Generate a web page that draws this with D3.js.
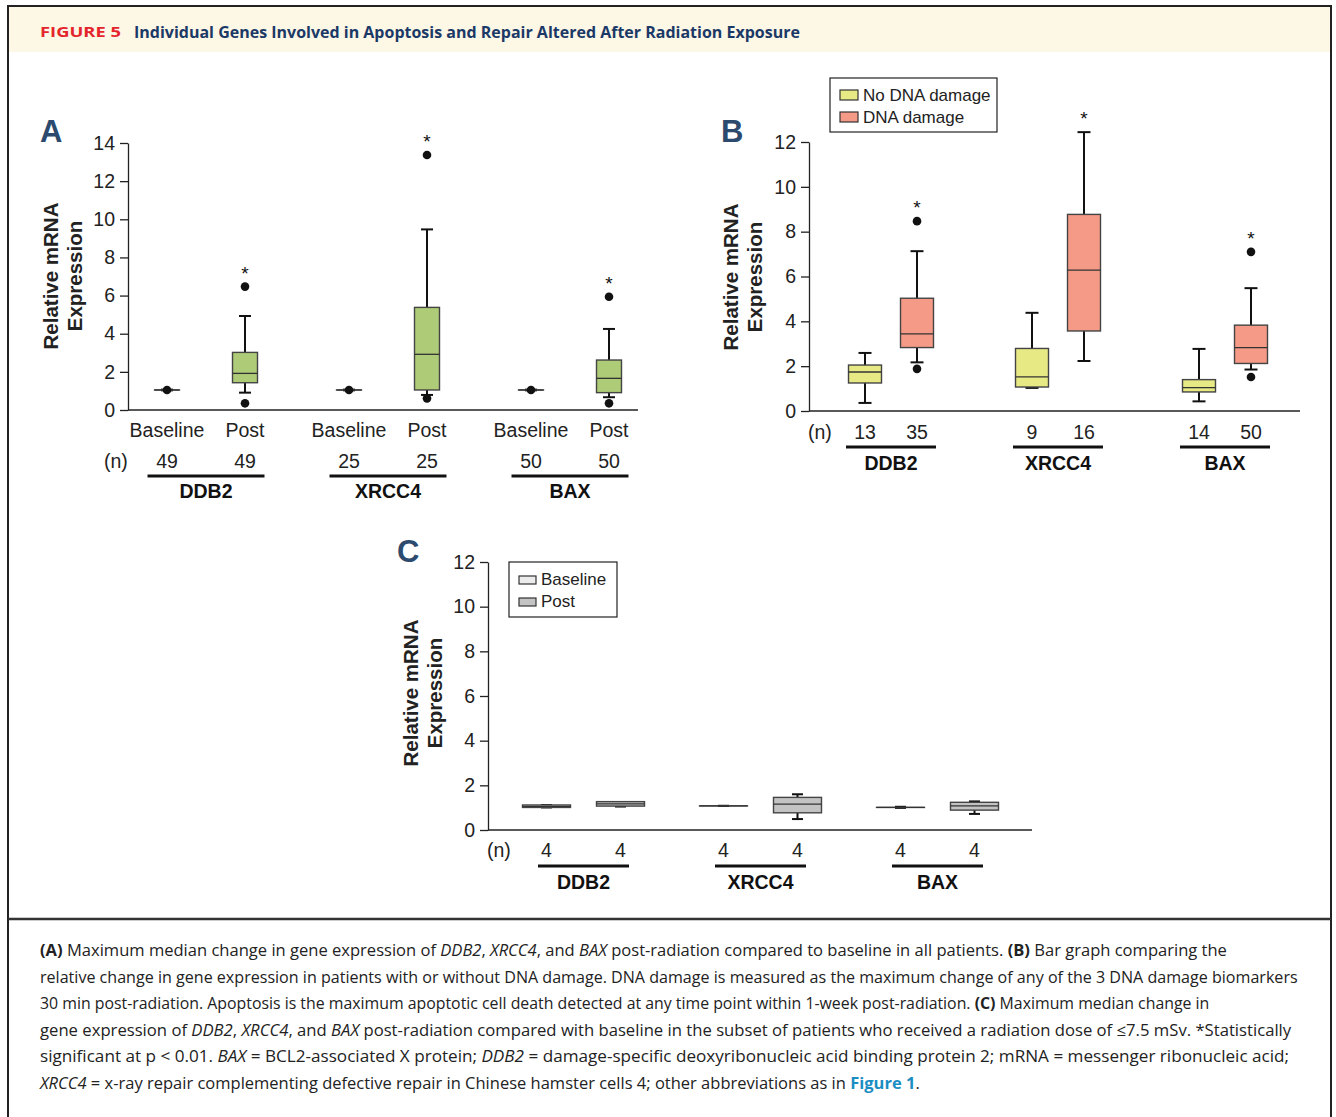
<!DOCTYPE html>
<html>
<head>
<meta charset="utf-8">
<script src="https://cdn.jsdelivr.net/npm/d3@7"></script>
<style>
    body { margin: 0; background: #fff; }
    svg { display: block; }
    text { white-space: pre; }
</style>
</head>
<body>
<svg id="fig" width="1336" height="1117"></svg>
<script>
const genes = ['DDB2', 'XRCC4', 'BAX'];

// Panel A - baseline vs post, all patients
const aGroups = ['Baseline', 'Post'];
const aN = [[49, 49], [25, 25], [50, 50]];
const aLow = [[1.03, 0.91], [1.03, 0.79], [1.03, 0.67]];
const aQ1 = [[1.05, 1.43], [1.05, 1.05], [1.05, 0.91]];
const aMed = [[1.05, 1.92], [1.05, 2.92], [1.05, 1.66]];
const aQ3 = [[1.05, 3.02], [1.05, 5.38], [1.05, 2.62]];
const aHigh = [[1.07, 4.93], [1.07, 9.47], [1.07, 4.25]];
const aOut = [[[1.05], [6.47, 0.35]], [[1.05], [13.37, 0.61]], [[1.05], [5.94, 0.35]]];
const aStar = [[false, true], [false, true], [false, true]];
const aTicks = [0, 2, 4, 6, 8, 10, 12, 14];

// Panel B - no DNA damage vs DNA damage
const bGroups = ['No DNA damage', 'DNA damage'];
const bN = [[13, 35], [9, 16], [14, 50]];
const bLow = [[0.36, 2.17], [1.03, 2.23], [0.43, 1.85]];
const bQ1 = [[1.25, 2.83], [1.07, 3.57], [0.85, 2.12]];
const bMed = [[1.74, 3.44], [1.52, 6.28], [1.04, 2.83]];
const bQ3 = [[2.05, 5.03], [2.79, 8.77], [1.40, 3.83]];
const bHigh = [[2.59, 7.13], [4.38, 12.44], [2.77, 5.48]];
const bOut = [[[], [8.47, 1.88]], [[], []], [[], [7.10, 1.52]]];
const bStar = [[false, true], [false, true], [false, true]];
const bTicks = [0, 2, 4, 6, 8, 10, 12];

// Panel C - dose <= 7.5 mSv subset
const cGroups = ['Baseline', 'Post'];
const cN = [[4, 4], [4, 4], [4, 4]];
const cLow = [[1.01, 1.05], [1.08, 0.49], [0.99, 0.72]];
const cQ1 = [[1.01, 1.07], [1.08, 0.77], [1.01, 0.89]];
const cMed = [[1.06, 1.17], [1.08, 1.16], [1.01, 1.08]];
const cQ3 = [[1.12, 1.27], [1.08, 1.46], [1.01, 1.24]];
const cHigh = [[1.12, 1.25], [1.08, 1.60], [1.04, 1.28]];
const cOut = [[[], []], [[], []], [[], []]];
const cStar = [[false, false], [false, false], [false, false]];
const cTicks = [0, 2, 4, 6, 8, 10, 12];

const captionLines = [
    [['(A)', 'b'], [' Maximum median change in gene expression of ', 'n'], ['DDB2', 'i'], [', ', 'n'], ['XRCC4', 'i'], [', and ', 'n'], ['BAX', 'i'], [' post-radiation compared to baseline in all patients. ', 'n'], ['(B)', 'b'], [' Bar graph comparing the', 'n']],
    [['relative change in gene expression in patients with or without DNA damage. DNA damage is measured as the maximum change of any of the 3 DNA damage biomarkers', 'n']],
    [['30 min post-radiation. Apoptosis is the maximum apoptotic cell death detected at any time point within 1-week post-radiation. ', 'n'], ['(C)', 'b'], [' Maximum median change in', 'n']],
    [['gene expression of ', 'n'], ['DDB2', 'i'], [', ', 'n'], ['XRCC4', 'i'], [', and ', 'n'], ['BAX', 'i'], [' post-radiation compared with baseline in the subset of patients who received a radiation dose of \u22647.5 mSv. *Statistically', 'n']],
    [['significant at p < 0.01. ', 'n'], ['BAX', 'i'], [' = BCL2-associated X protein; ', 'n'], ['DDB2', 'i'], [' = damage-specific deoxyribonucleic acid binding protein 2; mRNA = messenger ribonucleic acid;', 'n']],
    [['XRCC4', 'i'], [' = x-ray repair complementing defective repair in Chinese hamster cells 4; other abbreviations as in ', 'n'], ['Figure 1', 'l'], ['.', 'n']]
];
const captionEnds = [1228, 1299, 1210, 1292, 1290, 920];

const FONT = "'Liberation Sans', Arial, sans-serif";
const svg = d3.select('#fig');

// squeeze a text horizontally so it spans x0..x1
function fitWidth(t, x0, x1, y) {
    const w = t.node().getComputedTextLength();
    t.attr('transform', `translate(${x0},${y}) scale(${(x1 - x0) / w},1)`);
}

// frame + header band
svg.append('rect').attr('x', 9).attr('y', 7).attr('width', 1321).attr('height', 45).attr('fill', '#fdf7e6');
svg.append('path')
    .attr('d', 'M8,1117V6H1331V1117')
    .attr('fill', 'none').attr('stroke', '#222').attr('stroke-width', 2);
svg.append('line')
    .attr('x1', 8).attr('x2', 1331).attr('y1', 919).attr('y2', 919)
    .attr('stroke', '#333').attr('stroke-width', 2.5);

const figNo = svg.append('text')
    .attr('font-family', "'Open Sans', sans-serif").attr('font-weight', 700)
    .attr('font-size', 14).attr('fill', '#e4262c')
    .text('FIGURE 5');
fitWidth(figNo, 40, 121, 37);
const figTitle = svg.append('text')
    .attr('font-family', "'Open Sans', sans-serif").attr('font-weight', 700)
    .attr('font-size', 16.5).attr('fill', '#1b3966')
    .text('Individual Genes Involved in Apoptosis and Repair Altered After Radiation Exposure');
fitWidth(figTitle, 134, 800, 37.5);

function drawPanel(p) {
    const g = svg.append('g');

    const y = d3.scaleLinear().domain([0, d3.max(p.ticks)]).range([p.y0, p.y1]);
    const x = d3.scaleBand().domain(genes).range(p.xRange);
    const sub = d3.scalePoint().domain(p.groups).range([-p.off, p.off]);
    const cx = (gi, j) => x(genes[gi]) + x.bandwidth() / 2 + sub(p.groups[j]);

    // panel letter
    g.append('text')
        .attr('x', p.letterX).attr('y', p.letterY)
        .attr('font-family', FONT).attr('font-weight', 700)
        .attr('font-size', 31).attr('fill', '#2c4a6d')
        .text(p.letter);

    // y axis
    const ax = g.append('g')
        .attr('transform', `translate(${p.axisX},0)`)
        .call(d3.axisLeft(y).tickValues(p.ticks).tickSize(8).tickPadding(5).tickSizeOuter(0));
    ax.selectAll('path, line').attr('stroke', '#222').attr('stroke-width', 1.3);
    ax.selectAll('text').attr('font-family', FONT).attr('font-size', 19.5).attr('fill', '#222');

    // x baseline
    g.append('line')
        .attr('x1', p.axisX).attr('x2', p.xEnd)
        .attr('y1', y(0)).attr('y2', y(0))
        .attr('stroke', '#222').attr('stroke-width', 1.3);

    // y title
    const yt = g.append('text')
        .attr('transform', `translate(${p.titleX},${p.titleY}) rotate(-90)`)
        .attr('text-anchor', 'middle')
        .attr('font-family', FONT).attr('font-weight', 700)
        .attr('font-size', 20.5).attr('fill', '#222');
    yt.append('tspan').attr('x', 0).attr('y', 0).text('Relative mRNA');
    yt.append('tspan').attr('x', 0).attr('y', 24).text('Expression');

    // boxes
    const rows = [];
    genes.forEach(function(gene, gi) {
        p.groups.forEach(function(grp, j) {
            rows.push({ gi: gi, j: j, x: cx(gi, j) });
        });
    });

    const box = g.selectAll('.box')
        .data(rows)
        .enter()
        .append('g')
        .attr('class', 'box');

    box.append('line')
        .attr('x1', d => d.x).attr('x2', d => d.x)
        .attr('y1', d => y(p.high[d.gi][d.j])).attr('y2', d => y(p.low[d.gi][d.j]))
        .attr('stroke', '#111').attr('stroke-width', 2);
    [p.low, p.high].forEach(function(arr) {
        box.append('line')
            .attr('x1', d => d.x - p.cap / 2).attr('x2', d => d.x + p.cap / 2)
            .attr('y1', d => y(arr[d.gi][d.j])).attr('y2', d => y(arr[d.gi][d.j]))
            .attr('stroke', '#111').attr('stroke-width', 2);
    });
    box.append('rect')
        .attr('x', d => d.x - p.boxW / 2)
        .attr('width', p.boxW)
        .attr('y', d => y(p.q3[d.gi][d.j]))
        .attr('height', d => Math.max(0.01, y(p.q1[d.gi][d.j]) - y(p.q3[d.gi][d.j])))
        .attr('fill', d => p.colors[d.j])
        .attr('stroke', '#444').attr('stroke-width', 1.4);
    box.append('line')
        .attr('x1', d => d.x - p.boxW / 2).attr('x2', d => d.x + p.boxW / 2)
        .attr('y1', d => y(p.med[d.gi][d.j])).attr('y2', d => y(p.med[d.gi][d.j]))
        .attr('stroke', '#333').attr('stroke-width', 1.3);

    box.selectAll('circle')
        .data(d => p.out[d.gi][d.j].map(v => ({ x: d.x, v: v })))
        .enter()
        .append('circle')
        .attr('cx', d => d.x).attr('cy', d => y(d.v))
        .attr('r', 4.3).attr('fill', '#111');

    box.filter(d => p.star[d.gi][d.j])
        .append('text')
        .attr('x', d => d.x)
        .attr('y', function(d) {
            const top = d3.max([p.high[d.gi][d.j]].concat(p.out[d.gi][d.j]));
            return y(top) - 7;
        })
        .attr('text-anchor', 'middle')
        .attr('font-family', FONT).attr('font-size', 19).attr('fill', '#111')
        .text('*');

    // group labels under axis
    if (p.showGroupNames) {
        g.selectAll('.grp')
            .data(rows)
            .enter()
            .append('text')
            .attr('x', d => d.x).attr('y', p.groupY)
            .attr('text-anchor', 'middle')
            .attr('font-family', FONT).attr('font-size', 19.5).attr('fill', '#222')
            .text(d => p.groups[d.j]);
    }

    g.append('text')
        .attr('x', p.nLabelX).attr('y', p.nY)
        .attr('font-family', FONT).attr('font-size', 19.5).attr('fill', '#222')
        .text('(n)');
    g.selectAll('.n')
        .data(rows)
        .enter()
        .append('text')
        .attr('x', d => d.x).attr('y', p.nY)
        .attr('text-anchor', 'middle')
        .attr('font-family', FONT).attr('font-size', 19.5).attr('fill', '#222')
        .text(d => p.n[d.gi][d.j]);

    genes.forEach(function(gene) {
        const c = x(gene) + x.bandwidth() / 2;
        g.append('line')
            .attr('x1', c - p.lineW / 2).attr('x2', c + p.lineW / 2)
            .attr('y1', p.lineY).attr('y2', p.lineY)
            .attr('stroke', '#111').attr('stroke-width', 3);
        g.append('text')
            .attr('x', c).attr('y', p.geneY)
            .attr('text-anchor', 'middle')
            .attr('font-family', FONT).attr('font-weight', 700)
            .attr('font-size', 19.5).attr('fill', '#111')
            .text(gene);
    });

    // legend
    if (p.legend) {
        const L = p.legend;
        g.append('rect')
            .attr('x', L.x).attr('y', L.y).attr('width', L.w).attr('height', L.h)
            .attr('fill', '#fff').attr('stroke', '#222').attr('stroke-width', 1.2);
        p.groups.forEach(function(grp, j) {
            g.append('rect')
                .attr('x', L.x + 10).attr('y', L.y + L.first + j * L.step - L.sh)
                .attr('width', L.sw).attr('height', L.sh)
                .attr('fill', p.colors[j]).attr('stroke', '#333').attr('stroke-width', 1.2);
            g.append('text')
                .attr('x', L.x + 15 + L.sw).attr('y', L.y + L.first + j * L.step + 1)
                .attr('font-family', FONT).attr('font-size', 17).attr('fill', '#222')
                .text(grp);
        });
    }
}

drawPanel({
    letter: 'A', letterX: 40, letterY: 142,
    groups: aGroups, n: aN, low: aLow, q1: aQ1, med: aMed, q3: aQ3, high: aHigh, out: aOut, star: aStar,
    ticks: aTicks, y0: 410, y1: 143, axisX: 128, xEnd: 638, xRange: [115, 661], off: 39,
    boxW: 25, cap: 12, colors: ['#aecb77', '#aecb77'],
    titleX: 58, titleY: 276,
    showGroupNames: true, groupY: 437, nLabelX: 104, nY: 468, lineY: 476, lineW: 117, geneY: 498
});

drawPanel({
    letter: 'B', letterX: 721, letterY: 142,
    groups: bGroups, n: bN, low: bLow, q1: bQ1, med: bMed, q3: bQ3, high: bHigh, out: bOut, star: bStar,
    ticks: bTicks, y0: 411, y1: 142, axisX: 809, xEnd: 1300, xRange: [807.5, 1308.5], off: 26,
    boxW: 33, cap: 13, colors: ['#e6e984', '#f49a87'],
    titleX: 738, titleY: 277,
    showGroupNames: false, nLabelX: 808, nY: 439, lineY: 447, lineW: 90, geneY: 470,
    legend: { x: 830, y: 78, w: 167, h: 54, first: 22, step: 22, sw: 18, sh: 10 }
});

drawPanel({
    letter: 'C', letterX: 397, letterY: 562,
    groups: cGroups, n: cN, low: cLow, q1: cQ1, med: cMed, q3: cQ3, high: cHigh, out: cOut, star: cStar,
    ticks: cTicks, y0: 830, y1: 562, axisX: 488, xEnd: 1032, xRange: [495, 1026], off: 37,
    boxW: 48, cap: 11, colors: ['#ececec', '#c3c3c3'],
    titleX: 418, titleY: 693,
    showGroupNames: false, nLabelX: 487, nY: 857, lineY: 866, lineW: 91, geneY: 889,
    legend: { x: 509, y: 562, w: 108, h: 55, first: 22, step: 22, sw: 17, sh: 8 }
});

// caption
captionLines.forEach(function(segs, i) {
    const t = svg.append('text')
        .attr('font-family', "'Open Sans', sans-serif")
        .attr('font-size', 16).attr('fill', '#222');
    segs.forEach(function(s) {
        const ts = t.append('tspan').text(s[0]);
        if (s[1] === 'b') ts.attr('font-weight', 700);
        if (s[1] === 'i') ts.attr('font-style', 'italic');
        if (s[1] === 'l') ts.attr('font-weight', 700).attr('fill', '#1a8dc2');
    });
    fitWidth(t, 40, captionEnds[i], 956 + i * 26.5);
});
</script>
</body>
</html>
